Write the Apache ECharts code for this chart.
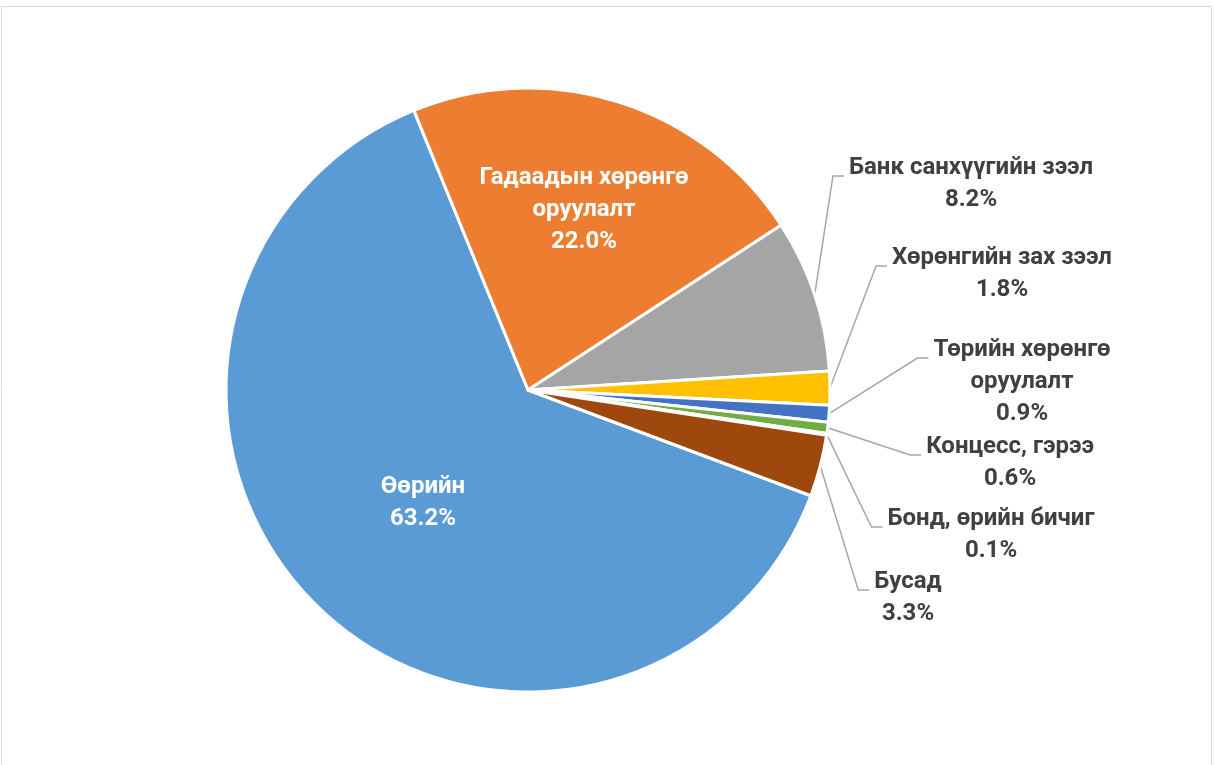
<!DOCTYPE html>
<html>
<head>
<meta charset="utf-8">
<script src="https://cdn.jsdelivr.net/npm/echarts@6/dist/echarts.min.js"></script>
<style>
html,body{margin:0;padding:0;background:#fff;}
#chart{width:1214px;height:765px;}
</style>
</head>
<body>
<div id="chart"></div>
<script>
const categories = [
  'Өөрийн',
  'Гадаадын хөрөнгө\nоруулалт',
  'Банк санхүүгийн зээл',
  'Хөрөнгийн зах зээл',
  'Төрийн хөрөнгө\nоруулалт',
  'Концесс, гэрээ',
  'Бонд, өрийн бичиг',
  'Бусад'
];
const shares = [63.2, 22.0, 8.2, 1.8, 0.9, 0.6, 0.1, 3.3];
const colors = ['#5B9BD5', '#ED7D31', '#A5A5A5', '#FFC000', '#4472C4', '#70AD47', '#255E91', '#9E480E'];
const insideLabels = [true, true, false, false, false, false, false, false];

// label block centres (pixels) as placed in the reference
const labelPositions = [
  [423, 503], [584, 210], [971, 184], [1002, 274],
  [1022, 382], [1010, 463], [991, 535], [908, 598]
];
const LINE_H = 32;

const chart = echarts.init(document.getElementById('chart'), null, {renderer: 'canvas'});

const data = categories.map((name, i) => ({
  name: name,
  value: shares[i],
  itemStyle: {color: colors[i]},
  label: insideLabels[i] ? {color: '#FFFFFF'} : {color: '#404040'},
  labelLine: {show: !insideLabels[i]}
}));

chart.setOption({
  animation: false,
  backgroundColor: '#FFFFFF',
  graphic: [{
    type: 'rect',
    shape: {x: 1.5, y: 6.5, width: 1210, height: 800},
    style: {fill: 'none', stroke: '#D9D9D9', lineWidth: 1},
    silent: true
  }],
  series: [{
    type: 'pie',
    center: [528, 390],
    radius: 302,
    startAngle: -20.5,
    clockwise: true,
    avoidLabelOverlap: false,
    itemStyle: {borderColor: '#FFFFFF', borderWidth: 3},
    label: {
      show: true,
      position: 'outside',
      fontFamily: 'Roboto',
      fontWeight: 'bold',
      fontSize: 24,
      lineHeight: LINE_H,
      align: 'center',
      formatter: p => p.name + '\n' + p.value.toFixed(1) + '%'
    },
    labelLine: {
      show: true,
      length: 10,
      length2: 12,
      lineStyle: {color: '#A6A6A6', width: 1.5}
    },
    labelLayout: function (params) {
      const i = params.dataIndex;
      const pos = labelPositions[i];
      const out = {x: pos[0], y: pos[1], align: 'center', verticalAlign: 'middle'};
      if (!insideLabels[i] && params.labelLinePoints) {
        const w = params.labelRect.width;
        const h = params.labelRect.height;
        const left = pos[0] - w / 2;
        const top = pos[1] - h / 2;
        const yEnd = top + LINE_H / 2 + 8;
        const start = params.labelLinePoints[0];
        out.labelLinePoints = [
          [start[0], start[1]],
          [left - 16, yEnd],
          [left - 5, yEnd]
        ];
      }
      return out;
    },
    data: data
  }]
});
</script>
</body>
</html>
